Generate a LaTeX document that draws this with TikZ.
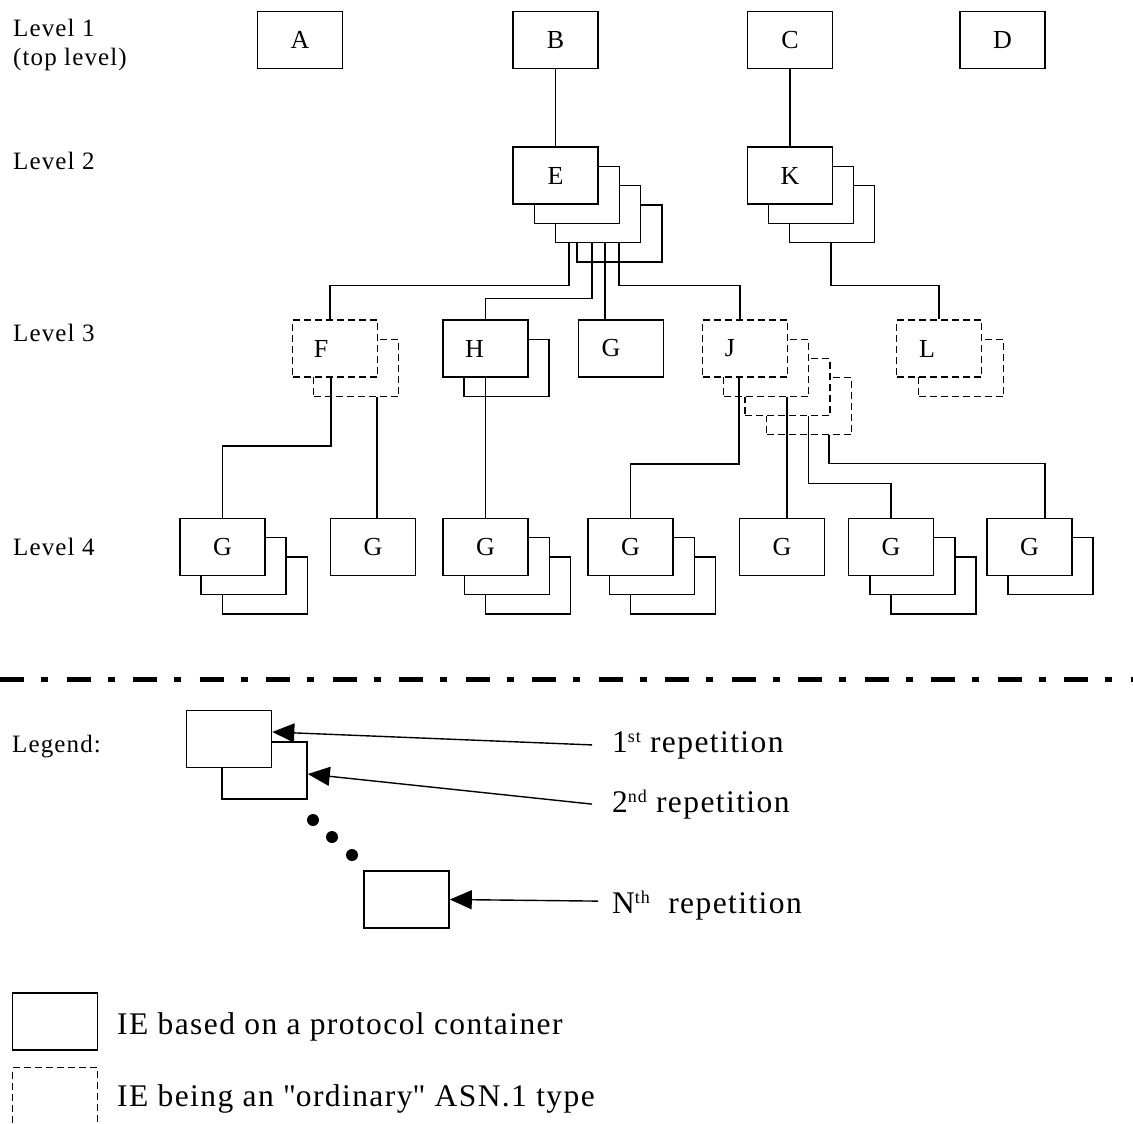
\documentclass[tikz,border=0pt]{standalone}
\usepackage{fontspec}
\setmainfont{Liberation Serif}[LetterSpace=4.5]
\usetikzlibrary{arrows.meta}

\newcommand{\lvfont}{\fontsize{25}{29}\selectfont}
\newcommand{\boxfont}{\fontsize{26}{30}\selectfont}
\newcommand{\legfont}{\fontsize{31.5}{36}\selectfont}
\newcommand{\supr}[1]{\raisebox{10pt}{\fontsize{18}{20}\selectfont #1}}

\begin{document}
\begin{tikzpicture}[
    x=1pt, y=-1pt,
    box/.style={rectangle, draw, line width=1.6pt, fill=white, minimum width=85pt, minimum height=57pt, inner sep=0pt, font=\boxfont},
    dbox/.style={box, dash pattern=on 7pt off 4pt},
    lvl/.style={anchor=base west, inner sep=0pt, font=\lvfont, align=left},
    legtext/.style={anchor=base west, inner sep=0pt, font=\legfont},
    link/.style={line width=1.6pt},
    arr/.style={line width=1.4pt, -{Triangle[length=22pt, width=19pt]}},
    every label/.style={font=\boxfont}
]
\clip (0,0) rectangle (1133,1124);
\fill[white] (0,0) rectangle (1133,1124);

% level labels
\node[lvl] (lv1) at (13,66) {Level 1\\(top level)};
\node[lvl] (lv2) at (13,169) {Level 2};
\node[lvl] (lv3) at (13,341) {Level 3};
\node[lvl] (lv4) at (13,555) {Level 4};

% level 1
\node[box] (A) at (300,40) {A};
\node[box] (B) at (555.5,40) {B};
\node[box] (C) at (790,40) {C};
\node[box] (D) at (1002.5,40) {D};

% level 2
\node[box] (E4) at (619.5,233.5) {};
\node[box] (E3) at (598,214) {};
\node[box] (E2) at (577,195) {};
\node[box] (E1) at (555.5,175.5) {E};

\node[box] (K3) at (832,214) {};
\node[box] (K2) at (811,195) {};
\node[box] (K1) at (790,175.5) {K};

% level 3
\node[dbox] (F2) at (356,368) {};
\node[dbox, label={[xshift=-14pt]center:F}] (F1) at (335,348.5) {};

\node[box] (H2) at (506.5,368) {};
\node[box, label={[xshift=-11pt]center:H}] (H1) at (485.5,348.5) {};

\node[box, label={[xshift=-10pt]center:G}] (Gm) at (621,348.5) {};

\node[dbox] (J4) at (809,406) {};
\node[dbox] (J3) at (787.5,387) {};
\node[dbox] (J2) at (766,368) {};
\node[dbox, label={[xshift=-15pt]center:J}] (J1) at (745,348.5) {};

\node[dbox] (L2) at (961,368) {};
\node[dbox, label={[xshift=-12pt]center:L}] (L1) at (939,348.5) {};

% level 4
\node[box] (Ga3) at (265,585.5) {};
\node[box] (Ga2) at (243.5,566) {};
\node[box] (Ga1) at (222.5,547) {G};

\node[box] (Gb) at (373,547) {G};

\node[box] (Gc3) at (528,585.5) {};
\node[box] (Gc2) at (507,566) {};
\node[box] (Gc1) at (485.5,547) {G};

\node[box] (Gd3) at (673,585.5) {};
\node[box] (Gd2) at (652,566) {};
\node[box] (Gd1) at (630.5,547) {G};

\node[box] (Ge) at (782,547) {G};

\node[box] (Gf3) at (933.5,585.5) {};
\node[box] (Gf2) at (912.5,566) {};
\node[box] (Gf1) at (891,547) {G};

\node[box] (Gg2) at (1050.5,566) {};
\node[box] (Gg1) at (1029.5,547) {G};

% connectors
\draw[link] (B.south) -- (E1.north);
\draw[link] (C.south) -- (K1.north);

\draw[link] ([xshift=14pt]E3.south west) -- ++(0,42) -| ([xshift=-5pt]F1.north);
\draw[link] ([xshift=37pt]E3.south west) -- ++(0,55) -| (H1.north);
\draw[link] ([xshift=50pt]E3.south west) coordinate (eg) -- (eg |- Gm.north);
\draw[link] ([xshift=64pt]E3.south west) -- ++(0,42) -| ([xshift=-5pt]J1.north);
\draw[link] ([xshift=42pt]K3.south west) -- ++(0,42) -| (L1.north);

\draw[link] ([xshift=-4pt]F1.south) -- ++(0,68) -| (Ga1.north);
\draw[link] ([xshift=21pt]F2.south) coordinate (fg) -- (fg |- Gb.north);
\draw[link] (H1.south) -- (Gc1.north);
\draw[link] ([xshift=-6pt]J1.south) -- ++(0,86) -| (Gd1.north);
\draw[link] ([xshift=21pt]J2.south) coordinate (jg) -- (jg |- Ge.north);
\draw[link] ([xshift=21pt]J3.south) -- ++(0,67) -| (Gf1.north);
\draw[link] ([xshift=20pt]J4.south) -- ++(0,28) -| ([xshift=15.5pt]Gg1.north);

% separator
\draw[line width=5pt, dash pattern=on 24pt off 17pt on 7pt off 18.5pt] (0,679) -- (1133,679);

% legend
\node[lvl] (leg) at (12,752) {Legend:};
\node[box] (R2) at (264.5,770.5) {};
\node[box] (R1) at (229,739) {};
\fill (313,820) circle (6) (332,837) circle (6) (352,855) circle (6);
\node[box] (RN) at (406.5,899.5) {};

\node[legtext] (t1) at (612,752) {1\supr{st} repetition};
\node[legtext] (t2) at (612,812) {2\supr{nd} repetition};
\node[legtext] (tn) at (612,913) {N\supr{th}\ \ repetition};

\draw[arr] ([xshift=-20pt]t1.west) -- ([yshift=7pt]R1.east);
\draw[arr] ([xshift=-20pt]t2.west) -- ([yshift=-3.5pt]R2.east);
\draw[arr] ([xshift=-14pt, yshift=4pt]tn.west) -- (RN.east);

\node[box] (kp) at (55,1021.5) {};
\node[dbox] (ko) at (55,1096) {};
\node[legtext] (kpt) at (117,1034) {IE based on a protocol container};
\node[legtext] (kot) at (117,1106) {IE being an \textquotedbl ordinary\textquotedbl{} ASN.1 type};

\end{tikzpicture}
\end{document}
